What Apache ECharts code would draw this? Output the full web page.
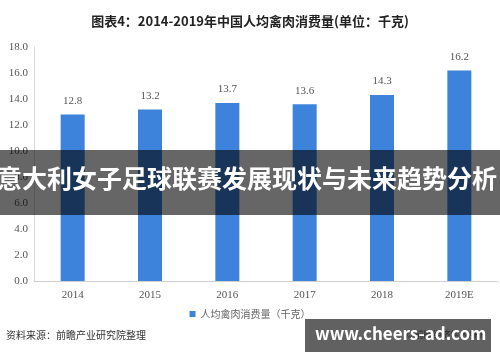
<!DOCTYPE html>
<html><head><meta charset="utf-8">
<script src="https://cdn.jsdelivr.net/npm/echarts@6/dist/echarts.min.js"></script>
<style>html,body{margin:0;padding:0;background:#fff}#c{width:500px;height:362px}</style>
</head><body><div id="c"></div>
<script>
var categories = ['2014','2015','2016','2017','2018','2019E'];
var values = [12.8, 13.2, 13.7, 13.6, 14.3, 16.2];
var yTicks = {min: 0, max: 18, interval: 2};
var titleText = '图表4：2014-2019年中国人均禽肉消费量(单位：千克)';
var seriesName = '人均禽肉消费量（千克）';
var sourceText = '资料来源：前瞻产业研究院整理';
var bannerText = '意大利女子足球联赛发展现状与未来趋势分析';
var siteText = 'www.cheers-ad.com';

var chart = echarts.init(document.getElementById('c'), null, {renderer: 'canvas'});
chart.setOption({
  animation: false,
  title: {text: titleText, left: 'center', top: 10,
    textStyle: {fontSize: 13, fontWeight: 'bold', color: '#222', fontFamily: 'Noto Sans CJK SC'}},
  grid: {left: 34, right: 2, top: 47, bottom: 81, containLabel: false},
  legend: {data: [seriesName], bottom: 38, left: 'center', itemWidth: 6, itemHeight: 6, icon: 'rect',
    textStyle: {fontSize: 10, color: '#666', fontFamily: 'Noto Sans CJK SC'}},
  xAxis: {type: 'category', data: categories,
    axisLine: {lineStyle: {color: '#d0d0d0'}}, axisTick: {show: false},
    axisLabel: {color: '#555', fontSize: 11, fontFamily: 'Liberation Serif', margin: 9}},
  yAxis: {type: 'value', min: yTicks.min, max: yTicks.max, interval: yTicks.interval,
    axisLine: {show: true, lineStyle: {color: '#d8d8d8'}}, axisTick: {show: false}, splitLine: {show: false},
    axisLabel: {color: '#555', fontSize: 11, fontFamily: 'Liberation Serif', margin: 6,
      formatter: function(v){return v.toFixed(1);}}},
  series: [{name: seriesName, type: 'bar', data: values, barWidth: 24,
    itemStyle: {color: '#3d83dc'},
    label: {show: true, position: 'top', distance: 8, color: '#555', fontSize: 11, fontFamily: 'Liberation Serif',
      formatter: function(p){return p.value.toFixed(1);}}}],
  graphic: [
    {type: 'text', left: 6, top: 330, style: {text: sourceText, fontSize: 10, fill: '#333', fontFamily: 'Noto Sans CJK SC'}},
    {type: 'text', left: 405, top: 330, style: {text: '© 前瞻经济学人APP', fontSize: 9, fill: '#777', fontFamily: 'Noto Sans CJK SC'}},
    {type: 'rect', left: 0, top: 150, shape: {width: 500, height: 65}, style: {fill: 'rgba(0,0,0,0.6)'}, z: 100},
    {type: 'text', left: -3, top: 166, style: {text: bannerText, fontSize: 25, fontWeight: 'bold', fill: '#fff', fontFamily: 'Noto Sans CJK SC'}, z: 101},
    {type: 'rect', left: 305, top: 319, shape: {width: 186, height: 33}, style: {fill: 'rgba(0,0,0,0.62)'}, z: 100},
    {type: 'text', left: 315, top: 325, style: {text: siteText, fontSize: 17, fontWeight: 'bold', fill: '#fff', fontFamily: 'Noto Sans CJK SC'}, z: 101}
  ]
});
</script></body></html>
